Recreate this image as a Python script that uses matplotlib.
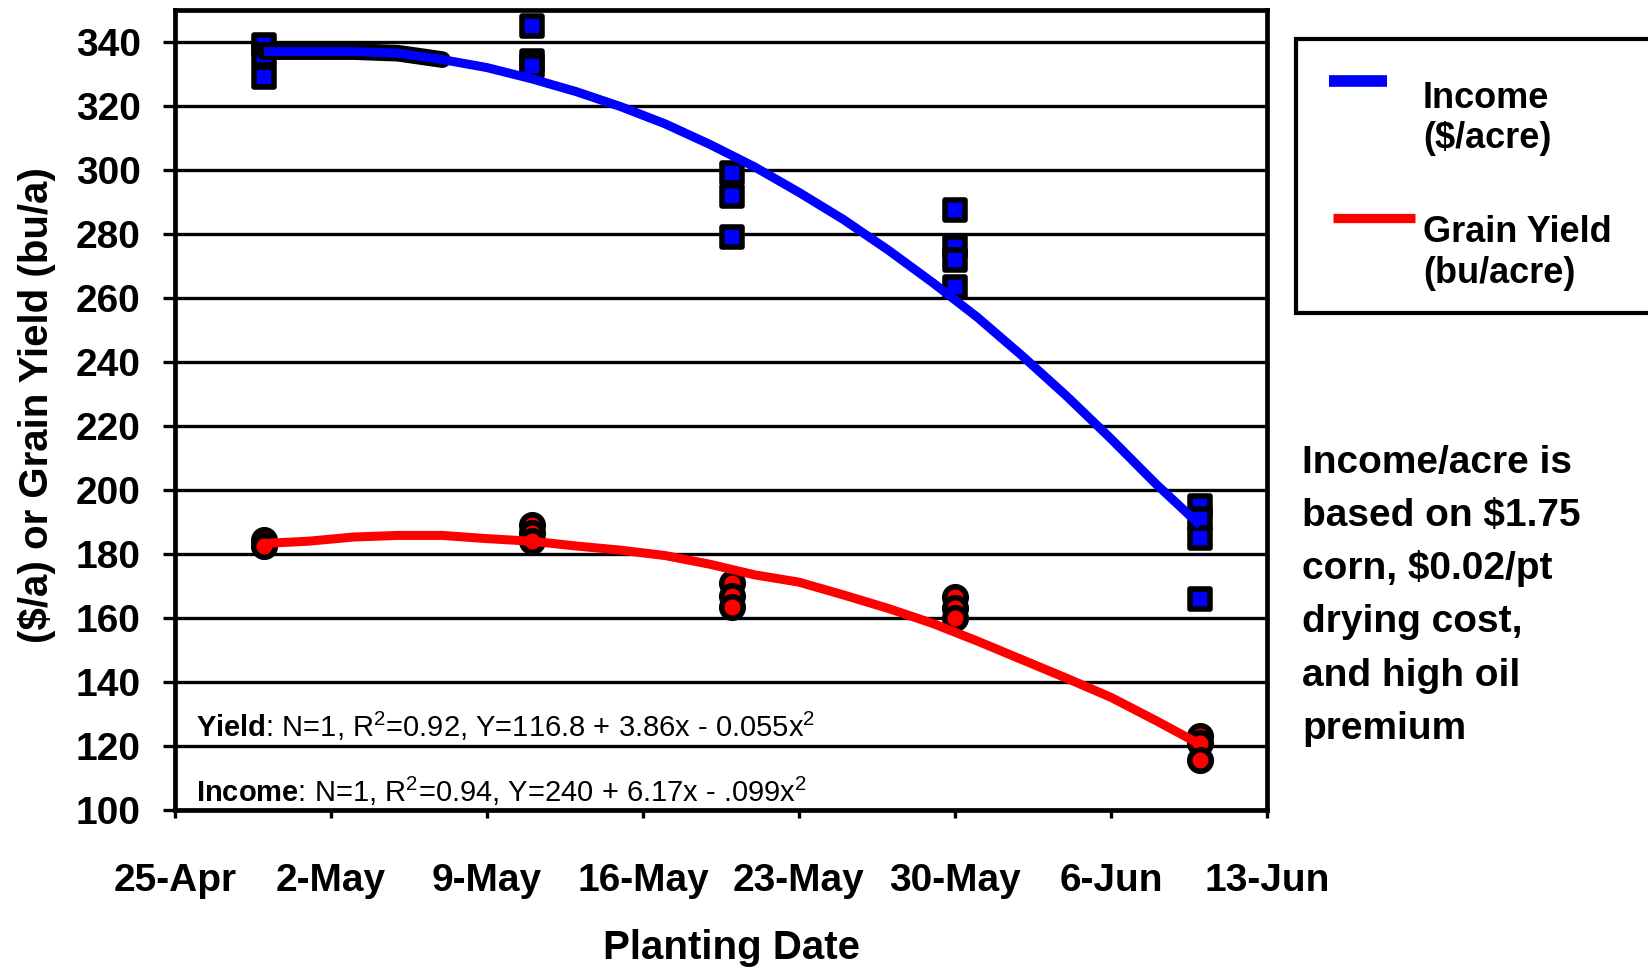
import numpy as np
import pandas as pd
import matplotlib
matplotlib.use("Agg")
import matplotlib.pyplot as plt
from matplotlib.markers import MarkerStyle
from matplotlib.lines import Line2D
from matplotlib.patches import Rectangle

plt.rcParams['font.family'] = ['Liberation Sans', 'DejaVu Sans']
plt.rcParams['mathtext.fontset'] = 'custom'
plt.rcParams['mathtext.rm'] = 'Liberation Sans'
plt.rcParams['mathtext.bf'] = 'Liberation Sans:bold'
plt.rcParams['mathtext.it'] = 'Liberation Sans:italic'

# ---------------- data ----------------
BASE = pd.Timestamp('2001-04-25')

income_obs_dates = (['2001-04-29'] * 3 + ['2001-05-11'] * 3 + ['2001-05-20'] * 3
                    + ['2001-05-30'] * 4 + ['2001-06-10'] * 4)
income_obs = [339, 336, 329,
              345, 334, 332.5,
              299, 292, 279,
              287.5, 276, 272, 263.5,
              195, 191, 185, 166]

yield_obs_dates = (['2001-04-29'] * 2 + ['2001-05-11'] * 3 + ['2001-05-20'] * 3
                   + ['2001-05-30'] * 3 + ['2001-06-10'] * 3)
yield_obs = [184.5, 182.5,
             189, 186.5, 184,
             171, 167, 163.5,
             166.5, 163, 160,
             123, 121, 115.5]

# fitted curves, days after 25-Apr
income_curve_days = [4, 6, 8, 10, 12, 14, 16, 18, 20, 22, 24, 26, 28, 30, 32,
                     34, 36, 38, 40, 42, 44, 46]
income_curve = [337, 337, 337, 336.5, 334.5, 332, 328.5, 324.5, 319.8, 314.4,
                308, 301, 293, 284.5, 275, 264.8, 254, 242, 229.4, 216, 202, 189]

yield_curve_days = [4, 6, 8, 10, 12, 14, 16, 18, 20, 22, 24, 26, 28, 30, 32,
                    34, 36, 38, 40, 42, 44, 46]
yield_curve = [183.3, 184, 185.3, 185.8, 185.8, 184.8, 184, 182.5, 181.2, 179.5,
               176.8, 173.5, 171.2, 167.2, 163, 158.3, 152.8, 147, 141.2, 135.2,
               128, 120.5]

tick_dates = ['2001-04-25', '2001-05-02', '2001-05-09', '2001-05-16',
              '2001-05-23', '2001-05-30', '2001-06-06', '2001-06-13']
tick_labels = ['25-Apr', '2-May', '9-May', '16-May', '23-May', '30-May',
               '6-Jun', '13-Jun']
y_ticks = list(range(100, 341, 20))

yield_eq = r"$\mathbf{Yield}$: N=1, R$^2$=0.92, Y=116.8 + 3.86x - 0.055x$^2$"
income_eq = r"$\mathbf{Income}$: N=1, R$^2$=0.94, Y=240 + 6.17x - .099x$^2$"
note_lines = ["Income/acre is", "based on $1.75", "corn, $0.02/pt",
              "drying cost,", "and high oil", "premium"]

# ---------------- figure ----------------
W, H = 1648, 969
fig = plt.figure(figsize=(W / 100, H / 100), dpi=100)
ax = fig.add_axes([175 / W, 1 - 810 / H, 1092 / W, 800 / H])

inc_x = BASE + pd.to_timedelta(income_curve_days, unit='D')
yld_x = BASE + pd.to_timedelta(yield_curve_days, unit='D')

sq = MarkerStyle('s', joinstyle='round')
ci = MarkerStyle('o', joinstyle='round')
ax.plot(pd.to_datetime(income_obs_dates), income_obs, linestyle='none',
        marker=sq, markersize=14.5, markerfacecolor='#0000FF',
        markeredgecolor='black', markeredgewidth=4, zorder=3)
ax.plot(pd.to_datetime(yield_obs_dates), yield_obs, linestyle='none',
        marker=ci, markersize=15.5, markerfacecolor='#FF0000',
        markeredgecolor='black', markeredgewidth=4, zorder=3)

# dark band under the flat start of the income curve
ax.plot(inc_x[:5], income_curve[:5], color='black', lw=12,
        solid_capstyle='round', zorder=3.5)
ax.plot(inc_x, income_curve, color='#0000FF', lw=6.5, zorder=4,
        solid_capstyle='butt')
ax.plot(yld_x, yield_curve, color='#FF0000', lw=6.5, zorder=4,
        solid_capstyle='butt')

ax.set_xlim(pd.Timestamp(tick_dates[0]), pd.Timestamp(tick_dates[-1]))
ax.set_ylim(100, 350)
ax.set_xticks(pd.to_datetime(tick_dates))
ax.set_xticklabels(tick_labels)
ax.set_yticks(y_ticks)
ax.set_yticklabels([str(v) for v in y_ticks])

ax.set_axisbelow(True)
ax.yaxis.grid(True, color='black', lw=2.4)
ax.xaxis.grid(False)
for s in ax.spines.values():
    s.set_linewidth(3.4)
    s.set_color('black')

ax.tick_params(axis='y', direction='out', length=8.6, width=2.4, pad=16,
               labelsize=28)
ax.tick_params(axis='x', direction='out', length=5.5, width=2.4, pad=33,
               labelsize=28)
for lab in ax.get_xticklabels() + ax.get_yticklabels():
    lab.set_fontweight('bold')

ax.set_xlabel('Planting Date', fontsize=29, fontweight='bold')
ax.xaxis.set_label_coords(0.51, (810 - 948) / 800)
ax.xaxis.label.set_va('center')
ax.set_ylabel('($/a) or Grain Yield (bu/a)', fontsize=29, fontweight='bold',
              parse_math=False)
ax.yaxis.set_label_coords((37 - 175) / 1092, 0.506)
ax.yaxis.label.set_va('center')

eq_x = BASE + pd.Timedelta(days=0.92)
ax.text(eq_x, 122.8, yield_eq, fontsize=21, va='baseline', ha='left', zorder=5)
ax.text(eq_x, 102.5, income_eq, fontsize=21, va='baseline', ha='left', zorder=5)

# ---------------- legend (drawn in figure coordinates) ----------------
fig.add_artist(Rectangle((1296 / W, 1 - 313 / H), (1670 - 1296) / W,
                         (313 - 39) / H, transform=fig.transFigure,
                         facecolor='white', edgecolor='black', lw=3))
fig.add_artist(Line2D([1329 / W, 1387 / W], [1 - 80.7 / H] * 2,
                      transform=fig.transFigure, color='#0000FF', lw=8.4,
                      solid_capstyle='butt'))
fig.add_artist(Line2D([1333 / W, 1415 / W], [1 - 218 / H] * 2,
                      transform=fig.transFigure, color='#FF0000', lw=6.7,
                      solid_capstyle='butt'))
for txt, yb in [('Income', 108), ('($/acre)', 148),
                ('Grain Yield', 242), ('(bu/acre)', 283)]:
    fig.text(1423 / W, 1 - yb / H, txt, fontsize=26, fontweight='bold',
             va='baseline', ha='left', parse_math=False)

for i, txt in enumerate(note_lines):
    fig.text(1302 / W, 1 - (472.7 + 53.2 * i) / H, txt, fontsize=28,
             fontweight='bold', va='baseline', ha='left', parse_math=False)

fig.savefig('out.png', dpi=100)
